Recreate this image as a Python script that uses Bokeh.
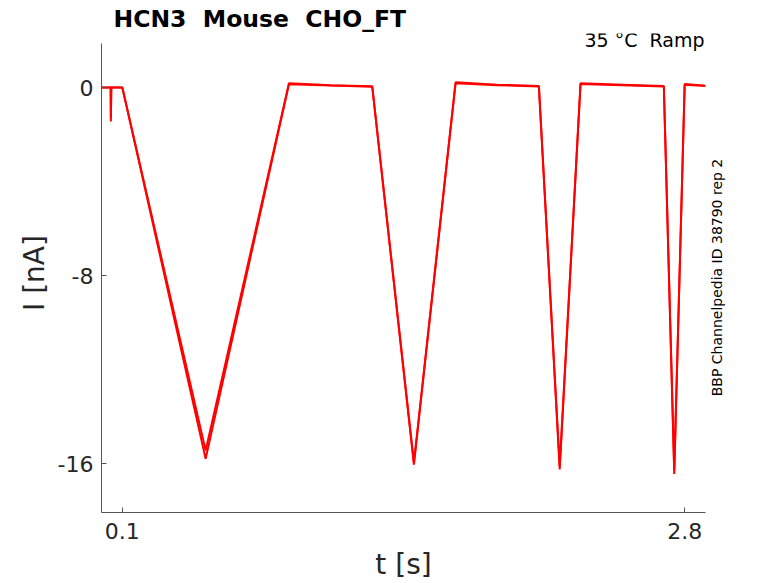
import math
from bokeh.plotting import figure
from bokeh.models import Label, FixedTicker, Range1d
from bokeh.embed import file_html
from bokeh.resources import INLINE

# ---- data ----
t_a = [0.0, 0.044, 0.045, 0.047, 0.1, 0.5, 0.9, 1.1, 1.3, 1.5, 1.7, 1.9, 2.1, 2.2, 2.3, 2.5, 2.7, 2.75, 2.8, 2.9]
i_a = [0.0, 0.0, -1.45, 0.0, 0.0, -15.45, 0.18, 0.1, 0.05, -15.95, 0.22, 0.12, 0.06, -16.1, 0.18, 0.12, 0.06, -16.3, 0.15, 0.08]
t_b = [0.0, 0.044, 0.045, 0.047, 0.1, 0.5, 0.9, 1.1, 1.3, 1.5, 1.7, 1.9, 2.1, 2.2, 2.3, 2.5, 2.7, 2.75, 2.8, 2.9]
i_b = [0.0, 0.0, -1.3, 0.0, 0.0, -15.8, 0.14, 0.08, 0.03, -16.05, 0.18, 0.1, 0.04, -16.25, 0.15, 0.1, 0.04, -16.45, 0.12, 0.06]

x_ticks = [0.1, 2.8]
y_ticks = [0, -8, -16]
y_axis_span = (-18.085, 1.872)   # drawn extent of the current axis
title_text = "HCN3\u00a0 Mouse\u00a0 CHO_FT"
cond_text = "35 °C\u00a0 Ramp"
side_text = "BBP Channelpedia ID 38790 rep 2"

FONT = "DejaVu Sans"
TXT = "#262626"

p = figure(frame_width=604, frame_height=479, output_backend="svg", toolbar_location=None,
           x_range=Range1d(0, 2.9), y_range=Range1d(-18.085, 2.298),
           min_border_left=101, min_border_top=33, min_border_right=57, min_border_bottom=0)
p.outline_line_color = None
p.xgrid.visible = False
p.ygrid.visible = False
p.background_fill_color = "white"
p.border_fill_color = "white"

for tt, ii in ((t_a, i_a), (t_b, i_b)):
    p.line(tt, ii, line_color="#ff0000", line_width=2)

for ax in (p.xaxis[0], p.yaxis[0]):
    ax.axis_line_color = "#555555"
    ax.major_tick_line_color = "#555555"
    ax.major_tick_in = 5
    ax.major_tick_out = 0
    ax.minor_tick_line_color = None
    ax.major_label_text_font = FONT
    ax.major_label_text_font_size = "22px"
    ax.major_label_text_color = TXT
    ax.axis_label_text_font = FONT
    ax.axis_label_text_font_size = "28px"
    ax.axis_label_text_font_style = "normal"
    ax.axis_label_text_color = TXT

p.yaxis.bounds = y_axis_span
p.xaxis.ticker = FixedTicker(ticks=x_ticks)
p.yaxis.ticker = FixedTicker(ticks=y_ticks)
p.xaxis.major_label_overrides = {0.1: "0.1", 2.8: "2.8"}
p.yaxis.major_label_overrides = {0: "0", -8: "-8", -16: "-16"}
p.xaxis.axis_label = "t [s]"
p.yaxis.axis_label = "I [nA]"
p.xaxis.major_label_standoff = 10
p.yaxis.major_label_standoff = 8
p.xaxis.axis_label_standoff = 6
p.yaxis.axis_label_standoff = 4

# title above the frame, condition text inside the frame, id text in the right panel
p.add_layout(Label(x=12, y=15, x_units="screen", y_units="screen", text=title_text,
                   text_font=FONT, text_font_size="23.5px", text_font_style="bold",
                   text_color="black", text_baseline="middle", text_align="left"), "above")
p.add_layout(Label(x=603, y=473, x_units="screen", y_units="screen", text=cond_text,
                   text_font=FONT, text_font_size="19px", text_color="black",
                   text_baseline="middle", text_align="right"))
p.add_layout(Label(x=11, y=235, x_units="screen", y_units="screen", text=side_text,
                   text_font=FONT, text_font_size="14px", text_color="black",
                   text_baseline="middle", text_align="center", angle=math.pi / 2), "right")

open("out.html", "w").write(file_html(p, INLINE))
